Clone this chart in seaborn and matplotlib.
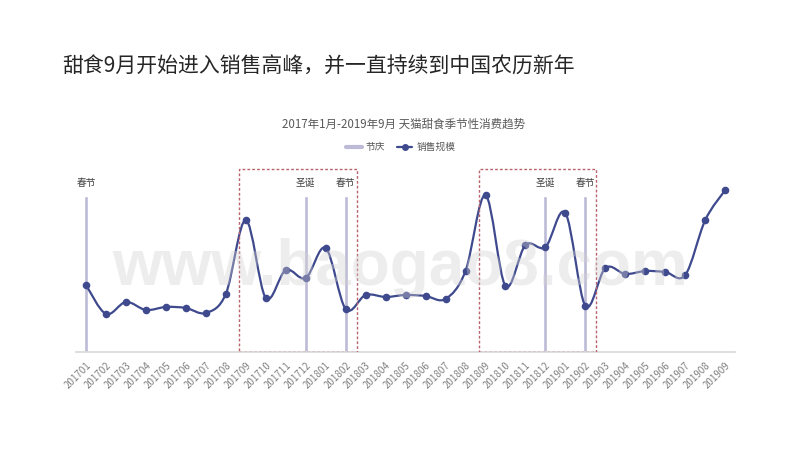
import numpy as np
import pandas as pd
import seaborn as sns
import matplotlib.pyplot as plt
from matplotlib.path import Path
from matplotlib.patches import PathPatch, Rectangle
from matplotlib.lines import Line2D

# data (relative sales scale)
months = ['201701', '201702', '201703', '201704', '201705', '201706', '201707', '201708',
          '201709', '201710', '201711', '201712', '201801', '201802', '201803', '201804',
          '201805', '201806', '201807', '201808', '201809', '201810', '201811', '201812',
          '201901', '201902', '201903', '201904', '201905', '201906', '201907', '201908',
          '201909']
sales = [67, 38, 50, 42, 45, 44, 39, 58, 132, 54, 82, 74, 104, 43, 57, 55,
         57, 56, 53, 81, 157, 66, 107, 105, 139, 46, 84, 78, 81, 80, 77, 132, 162]
festival_months = ['201701', '201712', '201802', '201812', '201902']
festival_names = ['春节', '圣诞', '春节', '圣诞', '春节']
festival_height = 156
peak_ranges = [('201709', '201802'), ('201809', '201902')]

line_color = '#3f4a8e'
bar_color = '#bdbad7'

sns.set_theme(style='white')
plt.rcParams['font.family'] = ['Noto Sans CJK SC', 'DejaVu Sans']

fig = plt.figure(figsize=(8, 4.5), dpi=100)
ax = fig.add_axes([0.095, 0.218, 0.824, 0.415])

# festival bars
fest = pd.DataFrame({'month': months,
                     'h': [festival_height if m in festival_months else np.nan for m in months]})
sns.barplot(data=fest, x='month', y='h', order=months, color=bar_color,
            width=0.2, saturation=1, ax=ax)

# smoothed sales line (Bezier through the data points, like Excel's smooth line)
xs = np.arange(len(months), dtype=float)
ys = np.array(sales, dtype=float)
verts = [(xs[0], ys[0])]
codes = [Path.MOVETO]
n = len(xs)
for i in range(n - 1):
    p0 = np.array([xs[max(i - 1, 0)], ys[max(i - 1, 0)]])
    p1 = np.array([xs[i], ys[i]])
    p2 = np.array([xs[i + 1], ys[i + 1]])
    p3 = np.array([xs[min(i + 2, n - 1)], ys[min(i + 2, n - 1)]])
    c1 = p1 + (p2 - p0) / 6
    c2 = p2 - (p3 - p1) / 6
    verts += [tuple(c1), tuple(c2), tuple(p2)]
    codes += [Path.CURVE4] * 3
ax.add_patch(PathPatch(Path(verts, codes), fill=False, edgecolor=line_color, lw=1.6, zorder=3))

sns.scatterplot(x=xs, y=ys, color=line_color, s=30, edgecolor=line_color, linewidth=0,
                zorder=4, ax=ax)

# festival labels
for m, name in zip(festival_months, festival_names):
    ax.text(months.index(m), 169, name, ha='center', va='center', fontsize=7, color='#404040')

# peak season boxes
for a, b in peak_ranges:
    x0 = months.index(a) - 0.35
    x1 = months.index(b) + 0.55
    ax.add_patch(Rectangle((x0, 0), x1 - x0, 183, fill=False, edgecolor='#b9636c',
                           lw=1, linestyle=(0, (2, 1.5)), zorder=5))

ax.set_xlim(-0.5, len(months) - 0.5)
ax.set_ylim(0, 187)
ax.set_xlabel('')
ax.set_ylabel('')
ax.set_yticks([])
for s in ['top', 'right', 'left']:
    ax.spines[s].set_visible(False)
ax.spines['bottom'].set_color('#d9d9d9')
ax.set_xticks(range(len(months)))
ax.set_xticklabels(months, rotation=45, ha='right', rotation_mode='anchor',
                   fontsize=7, color='#808080')
ax.tick_params(axis='x', length=0, pad=6)

# watermark
fig.text(0.5, 1 - 268 / 450, 'www.baogao8.com', ha='center', va='center', fontsize=46,
         fontweight='bold', family='Liberation Sans', color='#d0d0d0', alpha=0.38, zorder=10)

fig.text(0.0775, 1 - 67 / 450, '甜食9月开始进入销售高峰，并一直持续到中国农历新年',
         ha='left', va='center', fontsize=15, color='#262626')
fig.text(0.505, 1 - 124 / 450, '2017年1月-2019年9月 天猫甜食季节性消费趋势',
         ha='center', va='center', fontsize=8.3, color='#595959')

handles = [Line2D([], [], color=bar_color, lw=3),
           Line2D([], [], color=line_color, lw=1.6, marker='o', markersize=4)]
fig.legend(handles, ['节庆', '销售规模'], loc='center', bbox_to_anchor=(0.501, 1 - 147 / 450),
           ncol=2, frameon=False, fontsize=7, labelcolor='#595959', handlelength=1.6,
           columnspacing=1.2, handletextpad=0.4)

fig.savefig('out.png', dpi=100)
